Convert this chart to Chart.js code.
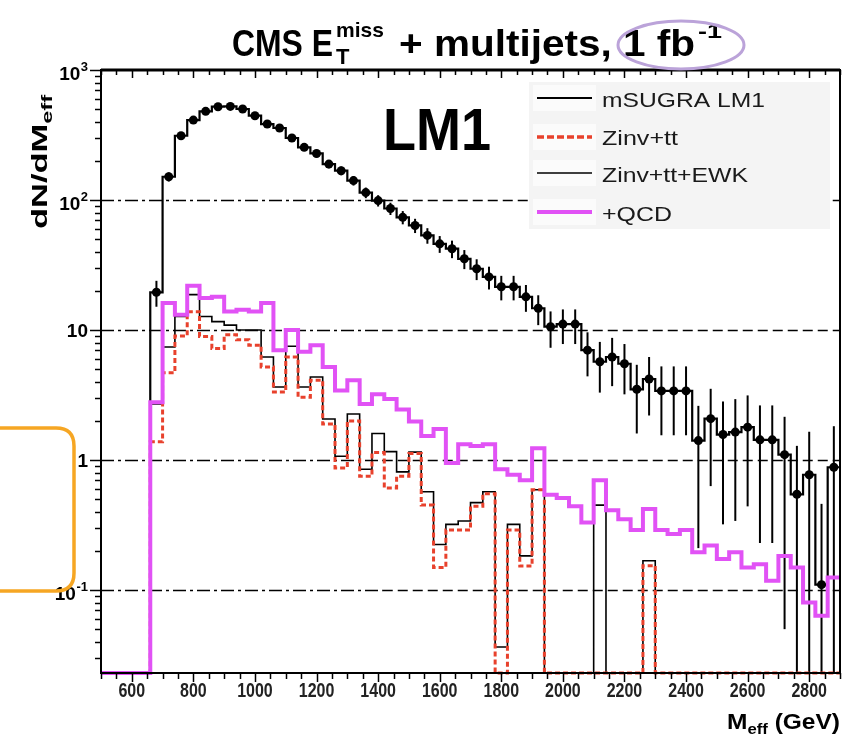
<!DOCTYPE html>
<html>
<head>
<meta charset="utf-8">
<script src="https://cdn.jsdelivr.net/npm/chart.js@4.4.1/dist/chart.umd.min.js"></script>
<style>
  html, body { margin: 0; padding: 0; background: #fff; }
  #wrap { width: 850px; height: 741px; }
</style>
</head>
<body>
<div id="wrap"><canvas id="grafikMeff" width="850" height="741"></canvas></div>
<script>
// Meff distribution, 40 GeV bins from 500 to 2900 GeV
const binLow = [500, 540, 580, 620, 660, 700, 740, 780, 820, 860,
    900, 940, 980, 1020, 1060, 1100, 1140, 1180, 1220, 1260,
    1300, 1340, 1380, 1420, 1460, 1500, 1540, 1580, 1620, 1660,
    1700, 1740, 1780, 1820, 1860, 1900, 1940, 1980, 2020, 2060,
    2100, 2140, 2180, 2220, 2260, 2300, 2340, 2380, 2420, 2460,
    2500, 2540, 2580, 2620, 2660, 2700, 2740, 2780, 2820, 2860];
const BIN_W = 40;

// mSUGRA LM1 signal and its errors
const lm1 = [0, 0, 0, 0, 19.5, 151, 312, 412, 481, 522,
    525, 501, 445, 384, 358, 300, 254, 228, 189, 168,
    141, 114, 99, 86, 73.6, 63.7, 53.4, 46, 42.2, 35.3,
    29.6, 25.6, 21.5, 21.5, 18, 14.7, 10.6, 11.1, 11.1, 7.0,
    5.7, 6.2, 5.5, 3.5, 4.2, 3.4, 3.4, 3.4, 1.41, 2.08,
    1.57, 1.64, 1.79, 1.43, 1.43, 1.10, 0.545, 0.77, 0.11, 0.88];
const lm1Err = [0, 0, 0, 0, 4.4, 12.3, 17.7, 20.3, 21.9, 22.8,
    22.9, 22.4, 21.1, 19.6, 18.9, 17.3, 15.9, 15.1, 13.7, 13.0,
    11.9, 10.7, 9.9, 9.3, 8.6, 8.0, 7.3, 6.8, 6.5, 5.9,
    5.4, 5.1, 4.6, 4.6, 4.2, 3.8, 3.3, 3.3, 3.3, 2.6,
    2.4, 2.5, 2.3, 1.9, 2.0, 1.85, 1.85, 1.85, 1.2, 1.45,
    1.25, 1.3, 1.35, 1.2, 1.2, 1.05, 0.74, 0.88, 0.35, 0.94];

// backgrounds (stacked)
const zinvTt = [0, 0, 0, 0, 1.38, 4.7, 9.0, 13.8, 8.9, 7.2,
    9.2, 8.4, 7.65, 5.2, 3.33, 6.2, 3.04, 4.1, 1.89, 0.87,
    2.0, 0.75, 1.14, 0.61, 0.75, 1.12, 0.45, 0.149, 0.29, 0.29,
    0.44, 0.55, 0, 0.29, 0.153, 0.59, 0, 0, 0, 0,
    0, 0, 0, 0, 0.154, 0, 0, 0, 0, 0,
    0, 0, 0, 0, 0, 0, 0, 0, 0, 0];
const zinvTtEwk = [0, 0, 0, 0, 2.7, 7.4, 12.7, 18.7, 12.7, 11.6,
    10.9, 10.0, 10.0, 6.2, 3.64, 7.5, 3.64, 4.35, 2.07, 1.07,
    2.26, 0.85, 1.6, 1.16, 0.81, 1.15, 0.57, 0.224, 0.32, 0.34,
    0.47, 0.57, 0.0365, 0.32, 0.183, 0.59, 0, 0, 0, 0,
    0.45, 0, 0, 0, 0.168, 0, 0, 0, 0, 0,
    0, 0, 0, 0, 0, 0, 0, 0, 0, 0];
const plusQcd = [0, 0, 0, 0, 2.78, 16.1, 13.1, 21.9, 17.6, 18.0,
    13.9, 14.3, 13.9, 16.1, 7.0, 10.0, 6.8, 7.65, 5.2, 3.43,
    4.1, 2.7, 3.2, 2.95, 2.45, 1.98, 1.53, 1.73, 0.95, 1.32,
    1.28, 1.32, 0.85, 0.77, 0.70, 1.23, 0.54, 0.51, 0.44, 0.33,
    0.70, 0.41, 0.35, 0.29, 0.42, 0.29, 0.27, 0.29, 0.195, 0.22,
    0.173, 0.195, 0.149, 0.158, 0.118, 0.183, 0.149, 0.080, 0.0635, 0.125];

// axes
const xTickLabels = ['600', '800', '1000', '1200', '1400', '1600', '1800', '2000', '2200', '2400', '2600', '2800'];
const yTickValues = [1000, 100, 10, 1, 0.1];
const yTickBase = ['10', '10', '10', '1', '10'];
const yTickExp = ['3', '2', '', '', '-1'];
const legendLabels = ['mSUGRA LM1', 'Zinv+tt', 'Zinv+tt+EWK', '+QCD'];

const X_MIN = 500, X_MAX = 2900;
const Y_MIN = 0.023, Y_MAX = 1000;

const FONT = '"Liberation Sans", Arial, Helvetica, sans-serif';
const MAGENTA = '#e152f5';
const RED = '#e8412c';

// histogram as step line: point at each low edge, plus the last high edge
function histPoints(values) {
    const pts = values.map((v, i) => ({ x: binLow[i], y: v > 0 ? v : Y_MIN }));
    pts.push({ x: X_MAX, y: pts[pts.length - 1].y });
    return pts;
}

const lm1Points = [];
lm1.forEach((v, i) => {
    if (v > 0) lm1Points.push({ x: binLow[i] + BIN_W / 2, y: v });
});

// text squeezed/stretched to a width
function fitText(ctx, text, font, x, y, width, align) {
    ctx.font = font;
    const w = ctx.measureText(text).width;
    const sx = width ? width / w : 1;
    ctx.save();
    ctx.translate(align === 'right' ? x - w * sx : align === 'center' ? x - w * sx / 2 : x, y);
    ctx.scale(sx, 1);
    ctx.textAlign = 'left';
    ctx.fillText(text, 0, 0);
    ctx.restore();
}

const rootStyle = {
    id: 'rootStyle',
    beforeDatasetsDraw(chart) {
        const { ctx, chartArea: a, scales: { x, y } } = chart;
        ctx.save();
        ctx.strokeStyle = '#000';
        ctx.lineWidth = 1.5;
        const split = x.getPixelForValue(1415);
        [100, 10, 1, 0.1].forEach(v => {
            const py = Math.round(y.getPixelForValue(v)) + 0.5;
            ctx.setLineDash([13, 4, 3, 4]);
            ctx.beginPath(); ctx.moveTo(a.left, py); ctx.lineTo(split, py); ctx.stroke();
            ctx.setLineDash([10, 5]);
            ctx.beginPath(); ctx.moveTo(split, py); ctx.lineTo(a.right, py); ctx.stroke();
        });
        ctx.setLineDash([]);
        // LM1 error bars
        ctx.lineWidth = 2;
        lm1.forEach((v, i) => {
            if (v <= 0) return;
            const cx = x.getPixelForValue(binLow[i] + BIN_W / 2);
            const lo = Math.max(v - lm1Err[i], Y_MIN);
            const hi = Math.min(v + lm1Err[i], Y_MAX);
            ctx.beginPath();
            ctx.moveTo(cx, y.getPixelForValue(lo));
            ctx.lineTo(cx, y.getPixelForValue(hi));
            ctx.stroke();
        });
        ctx.restore();
    },
    afterDatasetsDraw(chart) {
        const { ctx, chartArea: a, scales: { x, y } } = chart;
        ctx.save();
        ctx.fillStyle = '#000';
        ctx.strokeStyle = '#000';

        // frame
        ctx.lineWidth = 2;
        ctx.strokeRect(a.left, a.top, a.right - a.left, a.bottom - a.top);
        ctx.lineWidth = 3;
        ctx.beginPath(); ctx.moveTo(a.left, a.top); ctx.lineTo(a.right, a.top); ctx.stroke();

        // x ticks (bottom outside, top inside)
        ctx.lineWidth = 1.5;
        for (let v = X_MIN; v <= X_MAX; v += 50) {
            const px = Math.round(x.getPixelForValue(v)) + 0.5;
            const len = v % 200 === 0 ? 9 : 6;
            ctx.beginPath();
            ctx.moveTo(px, a.bottom); ctx.lineTo(px, a.bottom + len);
            ctx.moveTo(px, a.top); ctx.lineTo(px, a.top + len - 1);
            ctx.stroke();
        }
        // y ticks (left, outside)
        for (let e = -2; e <= 3; e++) {
            for (let m = 1; m <= 9; m++) {
                const v = m * Math.pow(10, e);
                if (v < Y_MIN || v > Y_MAX) continue;
                const py = Math.round(y.getPixelForValue(v)) + 0.5;
                ctx.beginPath();
                ctx.moveTo(a.left, py); ctx.lineTo(a.left - (m === 1 ? 11 : 6), py);
                ctx.stroke();
            }
        }

        // x tick labels
        ctx.fillStyle = '#222';
        xTickLabels.forEach(t => {
            const px = x.getPixelForValue(parseFloat(t));
            ctx.save();
            ctx.translate(px, 697);
            ctx.scale(0.8, 1);
            ctx.font = 'bold 20px ' + FONT;
            ctx.textAlign = 'center';
            ctx.fillText(t, 0, 0);
            ctx.restore();
        });

        // y tick labels, 10 with exponent
        ctx.fillStyle = '#000';
        ctx.textAlign = 'right';
        yTickValues.forEach((v, i) => {
            const py = y.getPixelForValue(v);
            const rightX = 88;
            if (yTickExp[i]) {
                ctx.font = 'bold 13px ' + FONT;
                const ew = ctx.measureText(yTickExp[i]).width;
                ctx.fillText(yTickExp[i], rightX, py + 1);
                ctx.font = 'bold 19px ' + FONT;
                ctx.fillText(yTickBase[i], rightX - ew - 0.5, py + 10);
            } else {
                ctx.font = 'bold 19px ' + FONT;
                ctx.fillText(yTickBase[i], rightX, py + 7);
            }
        });
        ctx.textAlign = 'left';

        // axis titles
        ctx.font = 'bold 22px ' + FONT;
        const wM = ctx.measureText('M').width;
        ctx.font = 'bold 15px ' + FONT;
        const wEff = ctx.measureText('eff').width;
        ctx.font = 'bold 22px ' + FONT;
        const wGev = ctx.measureText(' (GeV)').width;
        const sxT = 113 / (wM + wEff + wGev);
        ctx.save();
        ctx.translate(727, 729);
        ctx.scale(sxT, 1);
        ctx.font = 'bold 22px ' + FONT; ctx.fillText('M', 0, 0);
        ctx.font = 'bold 15px ' + FONT; ctx.fillText('eff', wM, 5);
        ctx.font = 'bold 22px ' + FONT; ctx.fillText(' (GeV)', wM + wEff, 0);
        ctx.restore();

        ctx.save();
        ctx.translate(47, 229);
        ctx.rotate(-Math.PI / 2);
        ctx.font = 'bold 22px ' + FONT;
        const wD = ctx.measureText('dN/dM').width;
        ctx.font = 'bold 15px ' + FONT;
        const wE2 = ctx.measureText('eff').width;
        ctx.scale(134 / (wD + wE2), 1);
        ctx.font = 'bold 22px ' + FONT; ctx.fillText('dN/dM', 0, 0);
        ctx.font = 'bold 15px ' + FONT; ctx.fillText('eff', wD, 5);
        ctx.restore();

        // legend
        ctx.fillStyle = '#f4f4f4';
        ctx.fillRect(529, 82, 301, 147);
        const rowY = [98, 137, 173, 212];
        const baseY = [106.5, 145, 181.5, 221];
        const textW = [163, 76, 146, 70];
        const styles = [
            { color: '#000', width: 2, dash: [] },
            { color: RED, width: 3.5, dash: [7, 3] },
            { color: '#000', width: 1.6, dash: [] },
            { color: MAGENTA, width: 4, dash: [] }
        ];
        legendLabels.forEach((lab, i) => {
            ctx.fillStyle = '#fbfbfb';
            ctx.fillRect(533, rowY[i] - 13, 63, 26);
            ctx.strokeStyle = styles[i].color;
            ctx.lineWidth = styles[i].width;
            ctx.setLineDash(styles[i].dash);
            ctx.beginPath(); ctx.moveTo(537, rowY[i]); ctx.lineTo(592, rowY[i]); ctx.stroke();
            ctx.setLineDash([]);
            ctx.fillStyle = '#1a1a1a';
            fitText(ctx, lab, '21px ' + FONT, 602, baseY[i], textW[i]);
        });

        // big LM1 label
        ctx.fillStyle = '#000';
        fitText(ctx, 'LM1', 'bold 60px ' + FONT, 383, 150, 108);

        // title
        fitText(ctx, 'CMS E', 'bold 37px ' + FONT, 232, 56, 101);
        fitText(ctx, 'miss', 'bold 21px ' + FONT, 336, 37);
        fitText(ctx, 'T', 'bold 22px ' + FONT, 336, 64);
        fitText(ctx, '+ multijets, 1 fb', 'bold 37px ' + FONT, 399, 56, 296);
        fitText(ctx, '-1', 'bold 21px ' + FONT, 698, 38, 24);

        // annotation marks on the picture
        ctx.strokeStyle = '#bba3d9';
        ctx.lineWidth = 3;
        ctx.beginPath();
        ctx.ellipse(681, 45, 63, 24, 0, 0, Math.PI * 2);
        ctx.stroke();

        ctx.strokeStyle = '#f6a623';
        ctx.lineWidth = 3.5;
        const rx = -20, ry = 428, rw = 94, rh = 163, r = 18;
        ctx.beginPath();
        ctx.moveTo(rx + r, ry);
        ctx.lineTo(rx + rw - r, ry);
        ctx.quadraticCurveTo(rx + rw, ry, rx + rw, ry + r);
        ctx.lineTo(rx + rw, ry + rh - r);
        ctx.quadraticCurveTo(rx + rw, ry + rh, rx + rw - r, ry + rh);
        ctx.lineTo(rx + r, ry + rh);
        ctx.stroke();
        ctx.restore();
    }
};

const stepCommon = { stepped: true, pointRadius: 0, fill: false, clip: 3, borderJoinStyle: 'miter', borderCapStyle: 'butt' };

const configMeff = {
    type: 'line',
    data: {
        datasets: [
            { label: 'LM1 points', data: lm1Points, showLine: false, pointRadius: 4.5, pointStyle: 'circle',
              pointBackgroundColor: '#000', pointBorderColor: '#000', pointBorderWidth: 0, order: 0 },
            Object.assign({ label: '+QCD', data: histPoints(plusQcd), borderColor: MAGENTA, borderWidth: 4, order: 1 }, stepCommon),
            Object.assign({ label: 'Zinv+tt', data: histPoints(zinvTt), borderColor: RED, borderWidth: 3, borderDash: [5, 3], order: 2 }, stepCommon),
            Object.assign({ label: 'Zinv+tt+EWK', data: histPoints(zinvTtEwk), borderColor: '#000', borderWidth: 1.6, order: 3 }, stepCommon),
            Object.assign({ label: 'mSUGRA LM1', data: histPoints(lm1), borderColor: '#000', borderWidth: 2.2, order: 4 }, stepCommon)
        ]
    },
    options: {
        responsive: false,
        animation: false,
        layout: { padding: { left: 101, top: 70, right: 10, bottom: 68 } },
        scales: {
            x: { type: 'linear', min: X_MIN, max: X_MAX, display: false },
            y: { type: 'logarithmic', min: Y_MIN, max: Y_MAX, display: false }
        },
        plugins: {
            legend: { display: false },
            tooltip: { enabled: false }
        },
        elements: { line: { tension: 0 } }
    },
    plugins: [rootStyle]
};

var grafikMeff = new Chart(document.getElementById('grafikMeff'), configMeff);
</script>
</body>
</html>
